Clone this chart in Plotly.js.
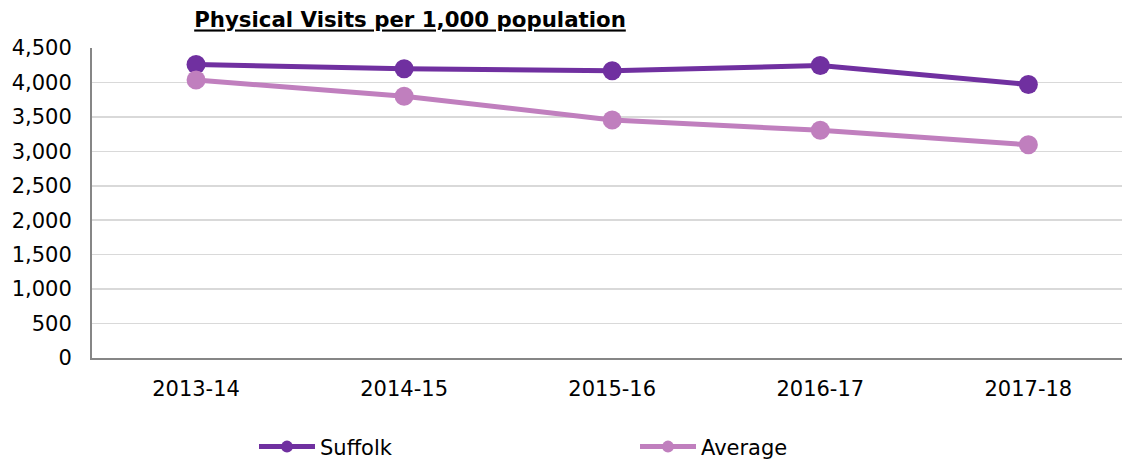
<!DOCTYPE html>
<html>
<head>
<meta charset="utf-8">
<script src="https://cdn.plot.ly/plotly-3.0.1.min.js"></script>
<style>html,body{margin:0;padding:0;background:#fff;overflow:hidden}</style>
</head>
<body>
<div id="chart" style="width:1122px;height:459px"></div>
<script>
var years = ["2013-14", "2014-15", "2015-16", "2016-17", "2017-18"];
var suffolk = [4260, 4200, 4170, 4245, 3970];
var average = [4035, 3800, 3455, 3305, 3095];
var tickVals = [0, 500, 1000, 1500, 2000, 2500, 3000, 3500, 4000, 4500];

var font = "DejaVu Sans, Verdana, sans-serif";
var traces = [
  {x: years, y: suffolk, name: "Suffolk", type: "scatter", mode: "lines+markers",
   line: {color: "#7030A0", width: 5}, marker: {color: "#7030A0", size: 19}},
  {x: years, y: average, name: "Average", type: "scatter", mode: "lines+markers",
   line: {color: "#C07FBE", width: 5}, marker: {color: "#C07FBE", size: 19}}
];
var layout = {
  width: 1122, height: 459,
  margin: {l: 92, r: 0, t: 48, b: 101, autoexpand: false},
  paper_bgcolor: "#fff", plot_bgcolor: "#fff",
  font: {family: font, size: 21, color: "#000"},
  title: {text: "<b>Physical Visits per 1,000 population</b>",
          font: {family: font, size: 21.3, color: "#000", lineposition: "under"},
          x: 410/1122, xanchor: "center", y: 1 - 20/459, yanchor: "middle"},
  xaxis: {type: "category", range: [-0.5, 4.45], showgrid: false, zeroline: false,
          showline: true, linecolor: "#868686", linewidth: 2, ticks: "",
          ticklabelstandoff: 11, fixedrange: true, automargin: false},
  yaxis: {range: [0, 4500], tickvals: tickVals, tickformat: ",d", showgrid: true,
          gridcolor: "#D9D9D9", gridwidth: 1.5, zeroline: false, showline: true,
          linecolor: "#868686", linewidth: 2, ticks: "", ticklabelstandoff: 14,
          fixedrange: true, automargin: false},
  showlegend: true,
  legend: {orientation: "h", x: (254 - 92)/1030, xanchor: "left", y: -0.287, yanchor: "middle",
           entrywidth: 310, entrywidthmode: "pixels", itemwidth: 56, itemsizing: "constant",
           font: {family: font, size: 21, color: "#000"}}
};
Plotly.newPlot("chart", traces, layout, {displayModeBar: false, staticPlot: true});
</script>
</body>
</html>
